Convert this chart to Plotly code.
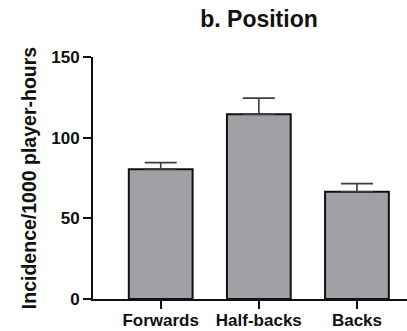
import plotly.graph_objects as go

# Injury incidence by playing position
positions = ["Forwards", "Half-backs", "Backs"]
incidence = [80.5, 114.5, 66.5]
error_upper = [4.0, 10.0, 5.0]
error_lower = [0.0, 0.0, 0.0]
y_ticks = [0, 50, 100, 150]

FONT = "Liberation Sans, Arial, Helvetica, sans-serif"

fig = go.Figure(
    go.Bar(
        x=positions,
        y=incidence,
        width=0.65,
        marker=dict(color="#a09fa4", line=dict(color="#111111", width=2)),
        error_y=dict(
            type="data",
            symmetric=False,
            array=error_upper,
            arrayminus=error_lower,
            color="#3c3c3c",
            thickness=1.6,
            width=16,
        ),
    )
)

fig.update_layout(
    width=407,
    height=331,
    margin=dict(l=93, r=0, t=57, b=32),
    paper_bgcolor="white",
    plot_bgcolor="white",
    showlegend=False,
    font=dict(family=FONT, color="#111111", weight="bold"),
    title=dict(
        text="b. Position",
        font=dict(family=FONT, size=23, color="#111111", weight="bold"),
        xref="container",
        yref="container",
        x=259 / 407,
        xanchor="center",
        y=1 - 19 / 331,
        yanchor="middle",
    ),
    bargap=0.35,
)

fig.update_xaxes(
    type="category",
    range=[-0.69, 2.51],
    automargin=False,
    showline=True,
    linecolor="#111111",
    linewidth=2,
    ticks="outside",
    ticklen=8,
    tickwidth=2,
    tickcolor="#111111",
    tickfont=dict(family=FONT, size=17, color="#111111", weight="bold"),
    ticklabelstandoff=-3,
    showgrid=False,
    zeroline=False,
    fixedrange=True,
)

fig.update_yaxes(
    range=[0, 150],
    automargin=False,
    tickvals=y_ticks,
    ticktext=[str(v) for v in y_ticks],
    showline=True,
    linecolor="#111111",
    linewidth=2,
    ticks="outside",
    ticklen=8,
    tickwidth=2,
    tickcolor="#111111",
    tickfont=dict(family=FONT, size=17, color="#111111", weight="bold"),
    title=dict(
        text="Incidence/1000 player-hours",
        font=dict(family=FONT, size=19.5, color="#111111", weight="bold"),
        standoff=9,
    ),
    showgrid=False,
    zeroline=False,
    fixedrange=True,
)

fig.write_html("out.html")
